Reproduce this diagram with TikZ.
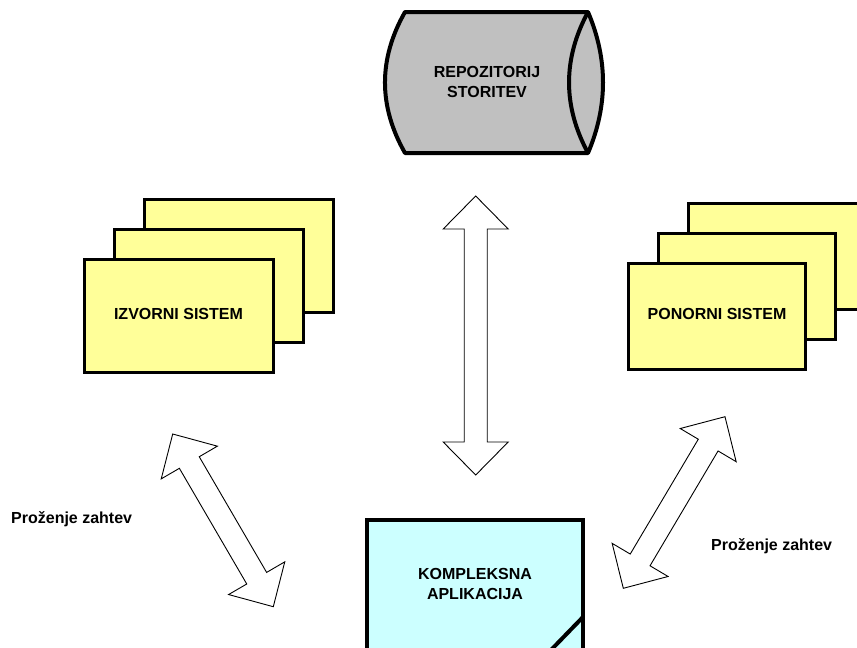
\documentclass[tikz,border=0pt]{standalone}
\usepackage{fontspec}
\setmainfont{Liberation Sans}
\usetikzlibrary{calc}
\definecolor{boxyellow}{HTML}{FFFF99}
\definecolor{boxcyan}{HTML}{CCFFFF}
\definecolor{repogrey}{HTML}{C0C0C0}
\tikzset{
  lbl/.style={font=\bfseries\fontsize{16}{19.5}\selectfont, align=center, inner sep=0pt},
  sysbox/.style={draw=black, line width=3pt, fill=boxyellow, rectangle, inner sep=0pt, font=\bfseries\fontsize{16}{19.5}\selectfont},
  blockarrow/.style={draw=black, line width=0.9pt, fill=white, line join=miter},
}
\newcommand\dblblockarrow[2]{%
  \coordinate (bh1) at ($(#1)!33pt!(#2)$);
  \coordinate (bh2) at ($(#2)!33pt!(#1)$);
  \draw[blockarrow] (#1) -- ($(bh1)!32.5pt!90:(#2)$) -- ($(bh1)!11.5pt!90:(#2)$)
    -- ($(bh2)!11.5pt!-90:(#1)$) -- ($(bh2)!32.5pt!-90:(#1)$) -- (#2)
    -- ($(bh2)!32.5pt!90:(#1)$) -- ($(bh2)!11.5pt!90:(#1)$)
    -- ($(bh1)!11.5pt!-90:(#2)$) -- ($(bh1)!32.5pt!-90:(#2)$) -- cycle;}
\begin{document}
\begin{tikzpicture}[x=1pt,y=-1pt]
\clip (0,0) rectangle (857,648);
\fill[white] (0,0) rectangle (857,648);
% repository cylinder
\draw[line width=4pt, fill=repogrey, line join=round]
  (405,12) -- (588,12) .. controls (608,59) and (608,106) .. (588,153)
  -- (405,153) .. controls (378.3,106) and (378.3,59) .. (405,12) -- cycle;
\draw[line width=4pt] (588,12) .. controls (562.7,59) and (562.7,106) .. (588,153);
\node[lbl] (repo) at (487,82) {REPOZITORIJ\\STORITEV};
% source systems (left stack)
\node[sysbox, minimum width=189pt, minimum height=113pt] (srcC) at (238.5,255.5) {};
\node[sysbox, minimum width=189pt, minimum height=113pt] (srcB) at (208.5,285.5) {};
\node[sysbox, minimum width=189pt, minimum height=113pt] (src) at (178.5,315.5) {};
\node[lbl] (srclbl) at (178.5,314) {IZVORNI SISTEM};
% sink systems (right stack)
\node[sysbox, minimum width=177pt, minimum height=106pt] (snkC) at (777,256) {};
\node[sysbox, minimum width=177pt, minimum height=106pt] (snkB) at (747,286) {};
\node[sysbox, minimum width=177pt, minimum height=106pt] (snk) at (717,316) {};
\node[lbl] (snklbl) at (717,314) {PONORNI SISTEM};
% complex application
\draw[line width=4pt, fill=boxcyan] (367,520) rectangle (583,670);
\draw[line width=4pt] (583,617) -- (551,650);
\node[lbl] (app) at (475,584) {KOMPLEKSNA\\APLIKACIJA};
% block arrows
\coordinate (vA) at (475.7,196);
\coordinate (vB) at (475.7,475);
\coordinate (lA) at (172.7,434);
\coordinate (lB) at (273.3,606.7);
\coordinate (rA) at (725,416.7);
\coordinate (rB) at (623.3,588.3);
\dblblockarrow{vA}{vB}
\dblblockarrow{lA}{lB}
\dblblockarrow{rA}{rB}
% labels
\node[lbl, anchor=west] (reqL) at (11,519) {Proženje zahtev};
\node[lbl, anchor=west] (reqR) at (711,546) {Proženje zahtev};
\end{tikzpicture}
\end{document}
